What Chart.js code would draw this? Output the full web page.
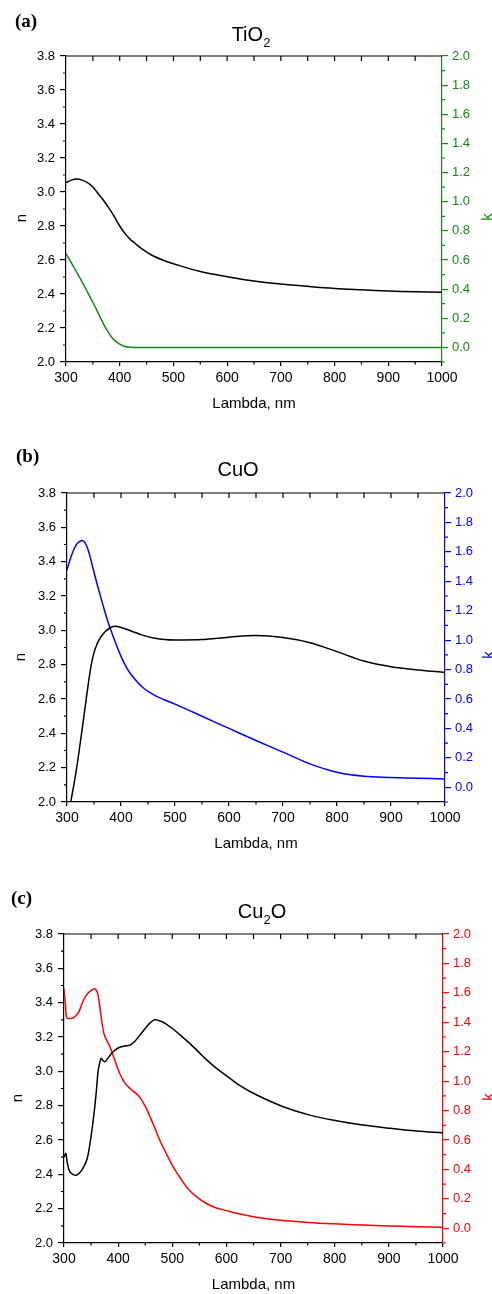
<!DOCTYPE html>
<html lang="en">
<head>
<meta charset="UTF-8">
<title>n, k of TiO2, CuO, Cu2O</title>
<script src="https://cdn.jsdelivr.net/npm/chart.js"></script>
<style>
  body { margin: 0; background: #fff; font-family: 'Liberation Sans', Arial, sans-serif; color: #000; }
  #page { position: relative; width: 492px; height: 1294px; overflow: hidden; }
  canvas { position: absolute; left: 0; }
  .tag { position: absolute; font-family: 'Liberation Serif', 'Times New Roman', serif; font-weight: bold; font-size: 19px; line-height: 20px; }
  .ttl { position: absolute; width: 200px; text-align: center; font-size: 20px; line-height: 24px; }
  .ttl sub { font-size: 13px; vertical-align: -6px; line-height: 0; }
  .ax { position: absolute; width: 20px; text-align: center; font-size: 15px; line-height: 18px; transform: rotate(-90deg); }
</style>
</head>
<body>
<div id="page">
  <canvas id="chartA" width="492" height="420" style="top:0px"></canvas>
  <canvas id="chartB" width="492" height="440" style="top:420px"></canvas>
  <canvas id="chartC" width="492" height="434" style="top:860px"></canvas>

  <div class="tag" style="left:15px; top:11px">(a)</div>
  <div class="ttl" style="left:151px; top:22px">TiO<sub>2</sub></div>
  <div class="ax" style="left:11px; top:209px">n</div>
  <div class="ax" style="left:477px; top:208px; color:#138a13">k</div>

  <div class="tag" style="left:16px; top:446px">(b)</div>
  <div class="ttl" style="left:138px; top:457px">CuO</div>
  <div class="ax" style="left:10px; top:648px">n</div>
  <div class="ax" style="left:478px; top:646px; color:#0000ff">k</div>

  <div class="tag" style="left:11px; top:888px">(c)</div>
  <div class="ttl" style="left:162px; top:899px">Cu<sub>2</sub>O</div>
  <div class="ax" style="left:7px; top:1089px">n</div>
  <div class="ax" style="left:478px; top:1088px; color:#ff0000">k</div>
</div>

<script>
  // axis ranges
  const lambdaRange = [300, 1000];
  const nRange = [2.0, 3.8];
  const kRange = [-0.1, 2.0];

  // (a) TiO2
  const lamTiO2n = [300, 310, 320, 330, 340, 350, 360, 370, 380, 390, 400, 410, 420, 428, 440, 460, 480, 500, 550, 600, 650, 700, 750, 800, 850, 900, 950, 1000];
  const nTiO2    = [3.055, 3.07, 3.076, 3.07, 3.055, 3.03, 2.99, 2.95, 2.905, 2.855, 2.80, 2.755, 2.72, 2.70, 2.668, 2.628, 2.60, 2.578, 2.532, 2.502, 2.477, 2.459, 2.445, 2.433, 2.425, 2.418, 2.413, 2.41];
  const lamTiO2k = [300, 310, 320, 330, 340, 350, 360, 370, 380, 390, 400, 410, 420, 430, 500, 600, 700, 800, 900, 1000];
  const kTiO2    = [0.644, 0.58, 0.515, 0.45, 0.38, 0.31, 0.235, 0.16, 0.097, 0.05, 0.022, 0.006, 0.001, 0, 0, 0, 0, 0, 0, 0];

  // (b) CuO
  const lamCuOn = [300, 307, 317, 327, 336, 340, 345, 350, 355, 360, 370, 380, 388, 400, 420, 440, 460, 480, 500, 550, 600, 650, 700, 750, 800, 850, 900, 950, 1000];
  const nCuO    = [1.87, 2.0, 2.18, 2.40, 2.61, 2.70, 2.80, 2.87, 2.915, 2.948, 2.99, 3.015, 3.024, 3.017, 2.995, 2.972, 2.955, 2.947, 2.944, 2.946, 2.96, 2.97, 2.958, 2.928, 2.876, 2.821, 2.788, 2.769, 2.755];
  const lamCuOk = [300, 308, 317, 327, 332, 337, 342, 348, 354, 360, 365, 370, 375, 380, 390, 400, 410, 420, 440, 460, 480, 500, 550, 600, 650, 700, 750, 800, 850, 900, 950, 1000];
  const kCuO    = [1.477, 1.573, 1.648, 1.677, 1.668, 1.635, 1.578, 1.49, 1.405, 1.325, 1.26, 1.195, 1.135, 1.08, 0.98, 0.89, 0.815, 0.76, 0.68, 0.63, 0.595, 0.565, 0.483, 0.40, 0.318, 0.239, 0.159, 0.102, 0.075, 0.067, 0.061, 0.057];

  // (c) Cu2O
  const lamCu2On = [300, 302, 303.5, 306, 310, 316, 323, 332, 342, 348, 354, 359, 363, 366, 368.5, 372, 376, 382, 388, 395, 403, 412, 422, 431, 440, 450, 460, 468, 480, 490, 502, 517, 533, 548, 563, 580, 594, 606, 625, 656, 705, 754, 803, 852, 902, 951, 1000];
  const nCu2O    = [2.50, 2.515, 2.522, 2.47, 2.42, 2.40, 2.395, 2.42, 2.483, 2.58, 2.716, 2.86, 3.0, 3.05, 3.076, 3.062, 3.056, 3.08, 3.105, 3.125, 3.14, 3.148, 3.153, 3.175, 3.211, 3.25, 3.285, 3.30, 3.29, 3.272, 3.245, 3.205, 3.16, 3.115, 3.068, 3.022, 2.988, 2.96, 2.917, 2.862, 2.794, 2.745, 2.712, 2.687, 2.668, 2.652, 2.641];
  const lamCu2Ok = [300, 303, 305, 310, 317, 326, 336, 345, 354, 358, 362, 366, 370, 374, 380, 385, 395, 403, 412, 422, 432, 440, 450, 459, 468, 477, 490, 502, 517, 532, 550, 565, 580, 600, 625, 650, 700, 750, 800, 850, 900, 950, 1000];
  const kCu2O    = [1.63, 1.5, 1.43, 1.425, 1.43, 1.46, 1.55, 1.60, 1.625, 1.625, 1.60, 1.51, 1.40, 1.32, 1.27, 1.234, 1.13, 1.052, 0.99, 0.95, 0.92, 0.89, 0.83, 0.757, 0.68, 0.598, 0.50, 0.416, 0.33, 0.257, 0.2, 0.165, 0.14, 0.12, 0.097, 0.079, 0.054, 0.04, 0.03, 0.022, 0.016, 0.011, 0.007];

  Chart.defaults.font.family = "'Liberation Sans', Arial, sans-serif";
  Chart.defaults.color = '#000';

  function pts(xs, ys) {
    return xs.map((x, i) => ({ x: x, y: ys[i] }));
  }

  // top frame, inward top ticks and the minor ticks Chart.js has no option for
  const frameTicks = {
    id: 'frameTicks',
    afterDraw(chart) {
      const { ctx, chartArea: a, scales } = chart;
      const kColor = chart.options.plugins.frameTicks.color;
      ctx.save();
      ctx.lineWidth = 1.2;
      ctx.strokeStyle = '#000';
      ctx.beginPath();
      ctx.moveTo(a.left, a.top);
      ctx.lineTo(a.right, a.top);
      for (let i = 0; i <= 14; i++) {
        const v = lambdaRange[0] + i * 50;
        const px = scales.x.getPixelForValue(v);
        if (i > 0 && i < 14) { ctx.moveTo(px, a.top); ctx.lineTo(px, a.top + 5); }
        if (i % 2 === 1) { ctx.moveTo(px, a.bottom); ctx.lineTo(px, a.bottom + 2.5); }
      }
      for (let i = 0; i < 9; i++) {
        const py = scales.y.getPixelForValue(2.1 + i * 0.2);
        ctx.moveTo(a.left - 3, py);
        ctx.lineTo(a.left, py);
      }
      ctx.stroke();
      ctx.strokeStyle = kColor;
      ctx.beginPath();
      for (let i = 0; i <= 10; i++) {
        const py = scales.y1.getPixelForValue(-0.1 + i * 0.2);
        ctx.moveTo(a.right, py);
        ctx.lineTo(a.right + 3, py);
      }
      ctx.stroke();
      ctx.restore();
    }
  };

  function makePanel(id, nx, ny, kx, ky, kColor, g) {
    new Chart(document.getElementById(id), {
      type: 'line',
      data: {
        datasets: [
          { data: pts(nx, ny), yAxisID: 'y', borderColor: '#000', borderWidth: 1.5, pointRadius: 0, tension: 0.35 },
          { data: pts(kx, ky), yAxisID: 'y1', borderColor: kColor, borderWidth: 1.5, pointRadius: 0, tension: 0.35 }
        ]
      },
      options: {
        responsive: false,
        animation: false,
        events: [],
        layout: { padding: { top: g.top, left: 0, right: 0, bottom: 0 } },
        plugins: { legend: { display: false }, tooltip: { enabled: false }, frameTicks: { color: kColor } },
        scales: {
          x: {
            type: 'linear', position: 'bottom', min: lambdaRange[0], max: lambdaRange[1],
            ticks: { stepSize: 100, font: { size: 14 }, padding: 4, maxRotation: 0, callback: v => String(v) },
            grid: { drawOnChartArea: false, tickLength: 4, color: '#000', lineWidth: 1.2 },
            border: { color: '#000', width: 1.2 },
            title: { display: true, text: 'Lambda, nm', font: { size: 15 }, padding: { top: 0, bottom: g.titlePad } },
            afterFit(s) { s.height = g.xh; }
          },
          y: {
            position: 'left', min: nRange[0], max: nRange[1],
            ticks: { stepSize: 0.2, font: { size: 13 }, padding: 5, callback: v => v.toFixed(1) },
            grid: { drawOnChartArea: false, tickLength: 6, color: '#000', lineWidth: 1.2 },
            border: { color: '#000', width: 1.2 },
            afterFit(s) { s.width = g.left; }
          },
          y1: {
            position: 'right', min: kRange[0], max: kRange[1],
            ticks: { stepSize: 0.2, includeBounds: false, font: { size: 13 }, color: kColor, padding: 4, callback: v => v.toFixed(1) },
            grid: { drawOnChartArea: false, tickLength: 6, color: kColor, lineWidth: 1.2 },
            border: { color: kColor, width: 1.2 },
            afterFit(s) { s.width = g.right; }
          }
        }
      },
      plugins: [frameTicks]
    });
  }

  makePanel('chartA', lamTiO2n, nTiO2, lamTiO2k, kTiO2, '#138a13', { top: 56, left: 66, right: 50, xh: 58, titlePad: 7 });
  makePanel('chartB', lamCuOn, nCuO, lamCuOk, kCuO, '#0000ff', { top: 73, left: 67, right: 47, xh: 58, titlePad: 7 });
  makePanel('chartC', lamCu2On, nCu2O, lamCu2Ok, kCu2O, '#ff0000', { top: 74, left: 64, right: 49, xh: 51, titlePad: 0 });
</script>
</body>
</html>
